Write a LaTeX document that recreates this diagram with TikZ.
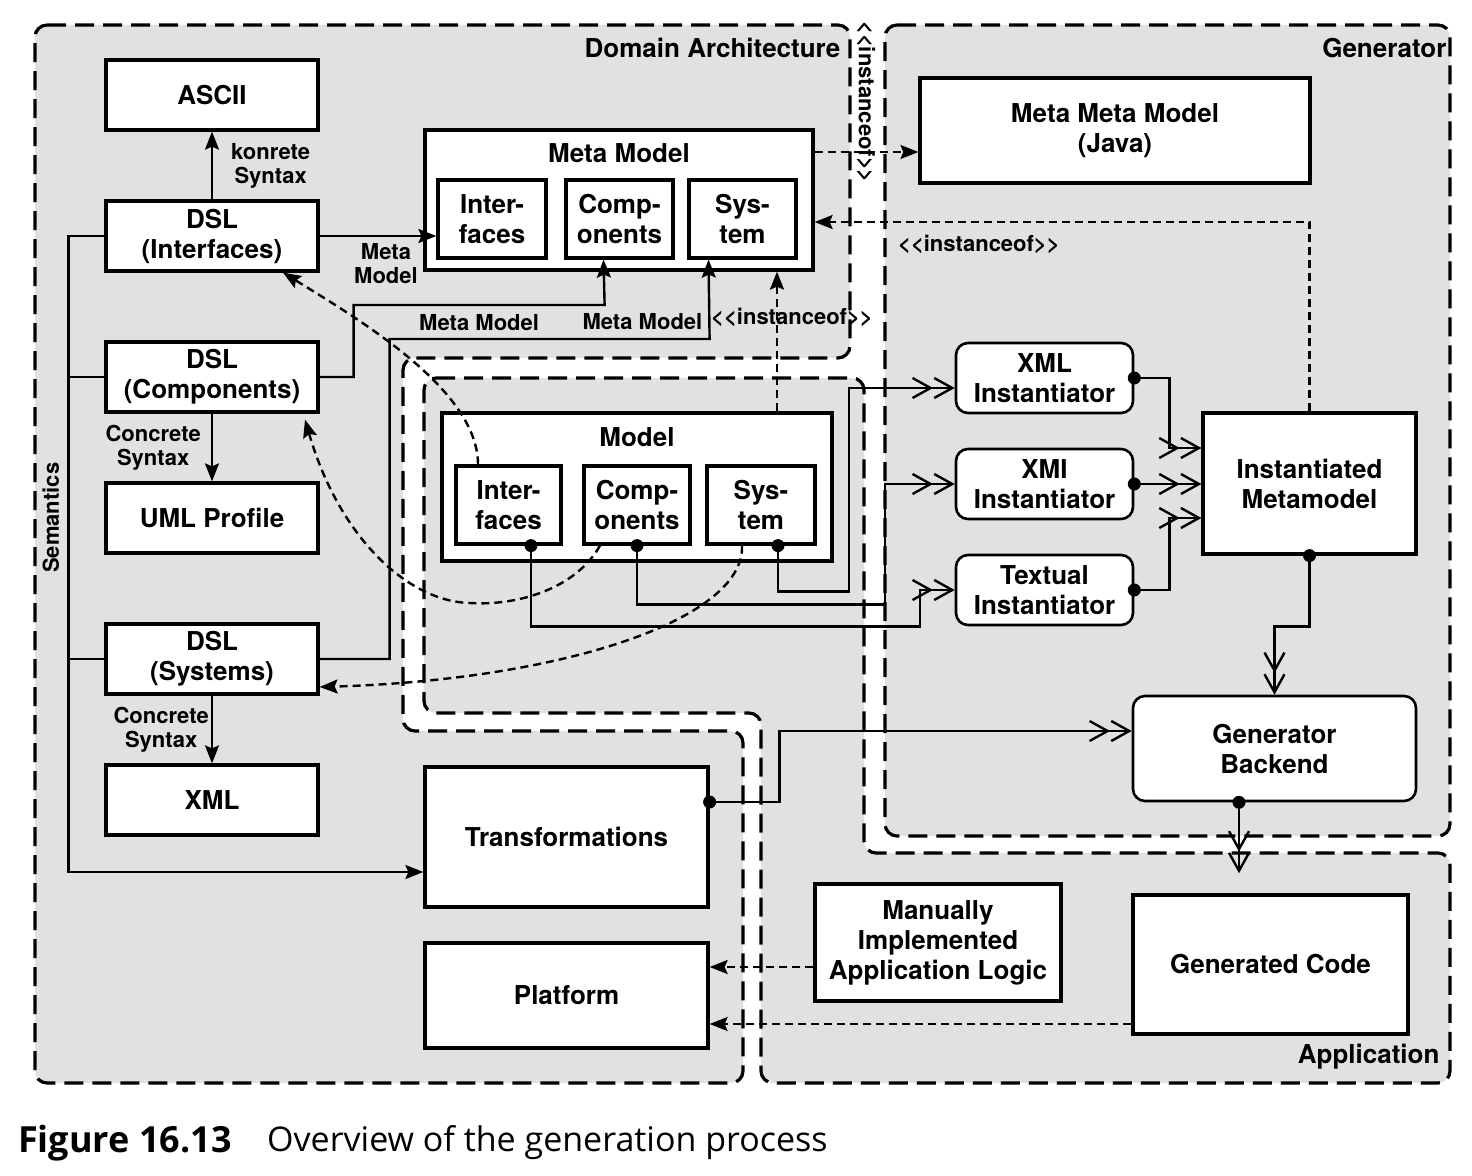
\documentclass[tikz,border=0pt]{standalone}
\usepackage{fontspec}
\setmainfont{TeX Gyre Heros}
\newfontfamily\capfont{Open Sans}
\usetikzlibrary{arrows.meta}
\definecolor{regiongray}{HTML}{E1E1E1}

\begin{document}
\begin{tikzpicture}[x=0.5pt,y=-0.5pt,>={Stealth[length=9pt,width=7pt,inset=1.5pt]},node distance=70.5pt,line width=1.2pt,
    region/.style={draw,fill=regiongray,line width=1.6pt,dash pattern=on 9.5pt off 4.5pt,rounded corners=6pt},
    main node/.style={draw,fill=white,line width=1.6pt,align=center,inner sep=0pt,font=\bfseries\fontsize{13}{15}\selectfont},
    title node/.style={main node,draw=none,fill=none},
    small node/.style={align=center,inner sep=1pt,font=\bfseries\fontsize{11}{12}\selectfont},
    col node/.style={main node,minimum width=106pt,minimum height=35pt},
    part node/.style={main node,minimum height=39pt},
    inst node/.style={main node,rounded corners=6pt,line width=1.3pt,minimum width=88.5pt,minimum height=35pt},
    dot node/.style={circle,fill,inner sep=0pt,minimum size=6.5pt},
    meta arrow/.style={->,dash pattern=on 4pt off 2.5pt},
    inst arrow/.style={-{Straight Barb[length=9pt,width=10pt]Straight Barb[length=9pt,width=10pt]}}]
                \useasboundingbox (0,0) rectangle (1472,1176);

                \draw[region] (35,25) -- (850,25) -- (850,358) -- (403,358) -- (403,731) -- (743,731) -- (743,1083) -- (35,1083) -- cycle;
                \draw[region] (424,378) -- (864,378) -- (864,853) -- (1450,853) -- (1450,1083) -- (761,1083) -- (761,713) -- (424,713) -- cycle;
                \draw[region] (885,25) -- (1450,25) -- (1450,836) -- (885,836) -- cycle;
                \node[title node,anchor=east] (dalabel) at (842,48) {Domain Architecture};
                \node[title node,anchor=east] (genlabel) at (1448,48) {Generator};
                \node[title node,anchor=east] (applabel) at (1441,1057) {Application};

                \node[col node] (ascii) at (212,95) {ASCII};
                \node[col node] (dslif) [below of=ascii] {DSL\\(Interfaces)};
                \node[col node] (dslco) [below of=dslif] {DSL\\(Components)};
                \node[col node] (uml) [below of=dslco] {UML Profile};
                \node[col node] (dslsy) [below of=uml] {DSL\\(Systems)};
                \node[col node] (xml) [below of=dslsy] {XML};

                \node[main node,minimum width=194pt,minimum height=70pt] (mm) at (619,200) {};
                \node[title node] (mmtitle) at (619,153) {Meta Model};
                \node[part node,minimum width=54pt] (mmif) at (492,219) {Inter-\\faces};
                \node[part node,minimum width=53.5pt,node distance=63.75pt] (mmco) [right of=mmif] {Comp-\\onents};
                \node[part node,minimum width=53.5pt,node distance=61.5pt] (mmsy) [right of=mmco] {Sys-\\tem};
                \node[main node,minimum width=195pt,minimum height=52.5pt] (mmm) at (1115,130.5) {Meta Meta Model\\(Java)};

                \node[main node,minimum width=195pt,minimum height=74pt] (model) at (637,487) {};
                \node[title node] (motitle) at (637,437) {Model};
                \node[part node,minimum width=52.5pt] (moif) at (508.5,505) {Inter-\\faces};
                \node[part node,minimum width=53pt,node distance=64.25pt] (moco) [right of=moif] {Comp-\\onents};
                \node[part node,minimum width=54pt,node distance=62pt] (mosy) [right of=moco] {Sys-\\tem};

                \node[inst node] (xmli) at (1044.5,378) {XML\\Instantiator};
                \node[inst node,node distance=53pt] (xmii) [below of=xmli] {XMI\\Instantiator};
                \node[inst node,node distance=53pt] (txti) [below of=xmii] {Textual\\Instantiator};
                \node[main node,minimum width=106.5pt,minimum height=70.5pt] (im) at (1309.5,483.5) {Instantiated\\Metamodel};
                \node[inst node,minimum width=141.5pt,minimum height=52.5pt] (gb) at (1274.5,748.5) {Generator\\Backend};

                \node[main node,minimum width=141.5pt,minimum height=70pt] (tr) at (566.5,837) {Transformations};
                \node[main node,minimum width=141.5pt,minimum height=52.5pt] (pf) at (566.5,995.5) {Platform};
                \node[main node,minimum width=123pt,minimum height=58.5pt] (ma) at (938,942.5) {Manually\\Implemented\\Application Logic};
                \node[main node,minimum width=137.5pt,minimum height=69.5pt] (gc) at (1270.5,964.5) {Generated Code};
                \node[anchor=west,inner sep=0pt,font=\capfont\bfseries\fontsize{18}{21}\selectfont] (figno) at (17,1143) {Figure 16.13};
                \node[anchor=west,inner sep=0pt,font=\capfont\fontsize{17}{20}\selectfont] (figcap) at (266,1143) {Overview of the generation process};

                \path[->]
                    (dslif) edge node[small node,right=8pt] {konrete\\Syntax} (ascii)
                    (dslco) edge node[small node,left=4pt] {Concrete\\Syntax} (uml)
                    (dslsy) edge node[small node,left=0pt] {Concrete\\Syntax} (xml)
                    ;
                \draw[->] (dslif.east) -- node[small node,below=2pt,xshift=4pt] {Meta\\Model} (dslif.east -| mmif.west);
                \draw[->] (dslco.east) -- ++(34,0) -- ++(0,-72) -- node[small node,below=3pt] {Meta Model} ++(251,0) -- ([xshift=-8pt]mmco.south);
                \draw[->] (dslsy.east) -- ++(70,0) -- ++(0,-320) -- node[small node,pos=0.79,above=3pt] {Meta Model} ++(320,0) -- ([xshift=-17pt]mmsy.south);
                \draw[->] (dslif.west) -- ++(-36,0) -- node[small node,pos=0.443,rotate=90,anchor=south,inner sep=4pt] {Semantics} ++(0,636) -- ([yshift=-17.5pt]tr.west);
                \draw (dslco.west) -- ++(-36,0);
                \draw (dslsy.west) -- ++(-36,0);

                \coordinate (ioa) at ([xshift=70pt]model.north);
                \coordinate (iob) at ([yshift=24pt]mm.east);
                \coordinate (ioc) at ([yshift=-11pt]mm.east);
                \draw[meta arrow] (ioa) -- node[small node,pos=0.67,xshift=7.5pt] {<{}<instanceof>{}>} (ioa |- mm.south);
                \draw[meta arrow] (iob) -- (iob -| mmm.west);
                \node[small node,rotate=-90] (iolabel) at (866,102) {<{}<instanceof>{}>};
                \draw[meta arrow] (im.north) |- node[small node,pos=0.834,below=5pt] {<{}<instanceof>{}>} (ioc);

                \draw[meta arrow] ([xshift=-15.25pt]moif.north) .. controls (478,390) and (360,320) .. ([xshift=35.5pt]dslif.south);
                \draw[meta arrow] ([xshift=-18.5pt]moco.south) .. controls (575,590) and (515,606) .. (470,603) .. controls (410,602) and (340,540) .. ([xshift=46.5pt,yshift=-3pt]dslco.south);
                \draw[meta arrow] ([xshift=-9.5pt]mosy.south) .. controls (745,620) and (560,680) .. ([yshift=-14pt]dslsy.east);

                \draw[inst arrow] ([xshift=8.5pt]mosy.south) node[dot node] {} -- ++(0,46) -- ++(71,0) |- ([yshift=-5pt]xmli.west);
                \draw[inst arrow] (moco.south) node[dot node] {} -- ++(0,59) -- ++(248,0) |- (xmii.west);
                \draw[inst arrow] ([xshift=11.25pt]moif.south) node[dot node] {} -- ++(0,81) -- ++(389,0) |- (txti.west);
                \draw[inst arrow] (xmli.east) node[dot node] {} -- ++(35,0) |- ([yshift=17.75pt]im.west);
                \draw[inst arrow] (xmii.east) node[dot node] {} -- (xmii.east -| im.west);
                \draw[inst arrow] (txti.east) node[dot node] {} -- ++(35,0) |- ([yshift=-17.25pt]im.west);
                \draw[inst arrow] (im.south) node[dot node] {} -- ++(0,71) -| (gb.north);
                \coordinate (gbout) at ([xshift=-17.75pt,yshift=-35.5pt]gb.south);
                \draw[inst arrow] ([xshift=-17.75pt]gb.south) node[dot node] {} -- (gbout);
                \draw[inst arrow] ([yshift=17.5pt]tr.east) node[dot node] {} -- ++(70,0) |- ([yshift=8.75pt]gb.west);

                \coordinate (maout) at ([yshift=-12.25pt]ma.west);
                \coordinate (gcout) at ([yshift=-29.75pt]gc.west);
                \draw[meta arrow] (maout) -- (maout -| pf.east);
                \draw[meta arrow] (gcout) -- (gcout -| pf.east);
            \end{tikzpicture}
\end{document}
